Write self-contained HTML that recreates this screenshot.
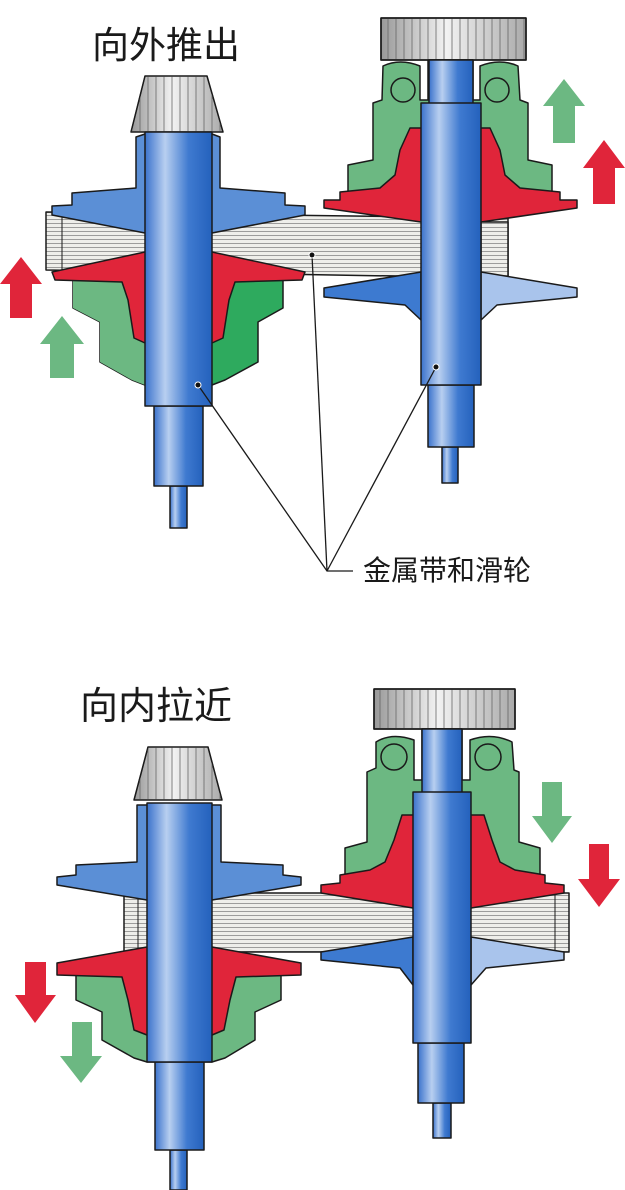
<!DOCTYPE html>
<html><head><meta charset="utf-8"><style>
html,body{margin:0;padding:0;background:#fff}
svg{display:block}
text{font-family:"Liberation Sans","Noto Sans CJK SC",sans-serif;fill:#1a1a1a}
</style></head><body>
<svg width="625" height="1190" viewBox="0 0 625 1190" xmlns="http://www.w3.org/2000/svg">
<defs>
<linearGradient id="sh" x1="0" x2="1" y1="0" y2="0">
<stop offset="0" stop-color="#3a72cc"/><stop offset="0.3" stop-color="#b8cff0"/><stop offset="0.65" stop-color="#3f7ad0"/><stop offset="1" stop-color="#2461bc"/>
</linearGradient>
<linearGradient id="gr" x1="0" x2="1" y1="0" y2="0">
<stop offset="0" stop-color="#999"/><stop offset="0.45" stop-color="#f2f2f2"/><stop offset="1" stop-color="#aaa"/>
</linearGradient>
<pattern id="belt" width="8" height="4" patternUnits="userSpaceOnUse">
<rect width="8" height="4" fill="#eeeeea"/><line x1="0" y1="3.5" x2="8" y2="3.5" stroke="#888" stroke-width="0.8"/>
</pattern>
<pattern id="gear" width="8" height="8" patternUnits="userSpaceOnUse">
<rect width="8" height="8" fill="none"/><line x1="4" y1="0" x2="4" y2="8" stroke="#666" stroke-width="0.8"/>
</pattern>
</defs>
<g stroke="#1a1a1a" stroke-width="1.5" stroke-linejoin="round">

<!-- ===== TOP ===== -->
<text x="92" y="58" font-size="37" stroke="none">向外推出</text>
<polygon points="46,212 508,218 508,278 46,270" fill="url(#belt)"/>
<line x1="62" y1="213" x2="62" y2="270" stroke-width="1"/>
<polygon points="145,76 207,76 223,132 131,132" fill="url(#gr)"/>
<polygon points="145,76 207,76 223,132 131,132" fill="url(#gear)" stroke-width="1"/>
<polygon points="73,278 283,278 283,308 258,322 258,362 225,380 212,385 145,385 132,380 100,362 100,322 73,308" fill="#2eaa5e"/>
<polygon points="73,278 145,278 145,385 132,380 100,362 100,322 73,308" fill="#6cb882" stroke="none"/>
<polygon points="145,252 52,272 55,280 122,282 128,300 134,338 145,343 212,343 223,338 229,300 235,282 302,280 305,272 212,252" fill="#e0253a"/>
<polygon points="136,137 145,134 212,134 220,137 220,188 285,193 285,205 305,206 305,215 212,233 145,233 52,215 52,206 72,205 72,193 136,188" fill="#5b8fd6"/>
<rect x="170" y="486" width="17" height="42" fill="url(#sh)"/>
<rect x="154" y="406" width="49" height="80" fill="url(#sh)"/>
<rect x="145" y="132" width="67" height="274" fill="url(#sh)"/>
<rect x="381" y="18" width="145" height="42" fill="url(#gr)"/>
<rect x="381" y="18" width="145" height="42" fill="url(#gear)"/>
<path d="M383,66 Q400,58 420,66 L420,100 L428,100 L428,60 L473,60 L473,100 L480,100 L480,66 Q500,58 518,66 L520,100 L528,103 L528,160 L552,165 L552,195 L348,195 L348,165 L373,160 L373,103 L382,100 Z" fill="#6cb882"/>
<circle cx="403" cy="90" r="12" fill="#6cb882"/>
<circle cx="497" cy="90" r="12" fill="#6cb882"/>
<polygon points="410,128 490,128 500,150 505,175 520,188 560,192 560,200 577,200 577,208 481,222 421,222 324,208 324,200 340,200 340,192 380,188 395,175 400,150" fill="#e0253a"/>
<rect x="481" y="222" width="27" height="56" fill="url(#belt)"/>
<polygon points="421,272 324,288 324,297 405,305 421,320" fill="#3d7ad0"/>
<polygon points="481,272 577,288 577,297 497,305 481,320" fill="#a9c4ec"/>
<rect x="442" y="447" width="16" height="36" fill="url(#sh)"/>
<rect x="428" y="385" width="46" height="62" fill="url(#sh)"/>
<rect x="429" y="60" width="44" height="44" fill="url(#sh)"/>
<rect x="421" y="103" width="60" height="282" fill="url(#sh)"/>
<polygon points="10,318 32,318 32,284 42,284 21,257 0,284 10,284" fill="#e0253a" stroke="none"/>
<polygon points="50,378 74,378 74,344 84,344 62,316 40,344 50,344" fill="#6cb882" stroke="none"/>
<polygon points="553,143 575,143 575,106 585,106 564,79 543,106 553,106" fill="#6cb882" stroke="none"/>
<polygon points="593,204 615,204 615,168 625,168 604,140 583,168 593,168" fill="#e0253a" stroke="none"/>
<g stroke-width="1.3" fill="none">
<polyline points="198,385 327,571 353,571"/>
<line x1="312" y1="255" x2="327" y2="571"/>
<line x1="436" y1="367" x2="327" y2="571"/>
</g>
<g stroke="#fff" stroke-width="1"><circle cx="198" cy="385" r="3" fill="#111"/><circle cx="312" cy="255" r="3" fill="#111"/><circle cx="436" cy="367" r="3" fill="#111"/></g>
<text x="363" y="580" font-size="28" stroke="none">金属带和滑轮</text>

<!-- ===== BOTTOM ===== -->
<text x="80" y="719" font-size="38" stroke="none">向内拉近</text>
<polygon points="124,893 569,893 569,952 124,952" fill="url(#belt)"/>
<line x1="138" y1="893" x2="138" y2="952" stroke-width="1"/>
<line x1="555" y1="893" x2="555" y2="952" stroke-width="1"/>
<polygon points="148,747 208,747 222,800 134,800" fill="url(#gr)"/>
<polygon points="148,747 208,747 222,800 134,800" fill="url(#gear)" stroke-width="1"/>
<polygon points="76,975 281,975 281,1000 255,1012 255,1040 225,1058 212,1062 147,1062 134,1058 102,1040 102,1012 76,1000" fill="#6cb882"/>
<polygon points="147,947 57,963 57,975 122,977 128,1000 134,1030 147,1035 212,1035 224,1030 230,1000 236,977 301,975 301,963 212,947" fill="#e0253a"/>
<polygon points="137,805 221,805 221,862 283,865 283,875 301,877 301,885 212,900 147,900 57,885 57,877 76,875 76,865 137,862" fill="#5b8fd6"/>
<rect x="170" y="1150" width="17" height="40" fill="url(#sh)"/>
<rect x="155" y="1062" width="49" height="88" fill="url(#sh)"/>
<rect x="147" y="803" width="65" height="259" fill="url(#sh)"/>
<rect x="374" y="689" width="141" height="40" fill="url(#gr)"/>
<rect x="374" y="689" width="141" height="40" fill="url(#gear)"/>
<path d="M376,742 Q392,732 414,740 L414,780 L422,780 L422,729 L462,729 L462,780 L470,780 L470,740 Q492,732 512,742 L514,770 L519,772 L519,842 L540,848 L540,877 L345,877 L345,848 L367,842 L367,772 L376,768 Z" fill="#6cb882"/>
<circle cx="394" cy="757" r="13" fill="#6cb882"/>
<circle cx="488" cy="757" r="13" fill="#6cb882"/>
<polygon points="402,815 484,815 492,840 500,862 515,870 545,875 545,883 564,885 564,893 471,908 413,908 321,893 321,885 340,883 340,875 370,870 385,862 394,840" fill="#e0253a"/>
<polygon points="413,937 321,952 321,960 400,968 413,985" fill="#3d7ad0"/>
<polygon points="471,937 564,952 564,960 486,968 471,985" fill="#a9c4ec"/>
<rect x="433" y="1103" width="18" height="35" fill="url(#sh)"/>
<rect x="418" y="1043" width="46" height="60" fill="url(#sh)"/>
<rect x="422" y="729" width="40" height="64" fill="url(#sh)"/>
<rect x="413" y="792" width="58" height="251" fill="url(#sh)"/>
<polygon points="25,962 46,962 46,995 56,995 35,1023 15,995 25,995" fill="#e0253a" stroke="none"/>
<polygon points="72,1022 92,1022 92,1056 102,1056 81,1083 60,1056 72,1056" fill="#6cb882" stroke="none"/>
<polygon points="542,782 562,782 562,816 572,816 552,843 532,816 542,816" fill="#6cb882" stroke="none"/>
<polygon points="589,844 609,844 609,879 620,879 599,907 578,879 589,879" fill="#e0253a" stroke="none"/>
</g>
</svg>
</body></html>
